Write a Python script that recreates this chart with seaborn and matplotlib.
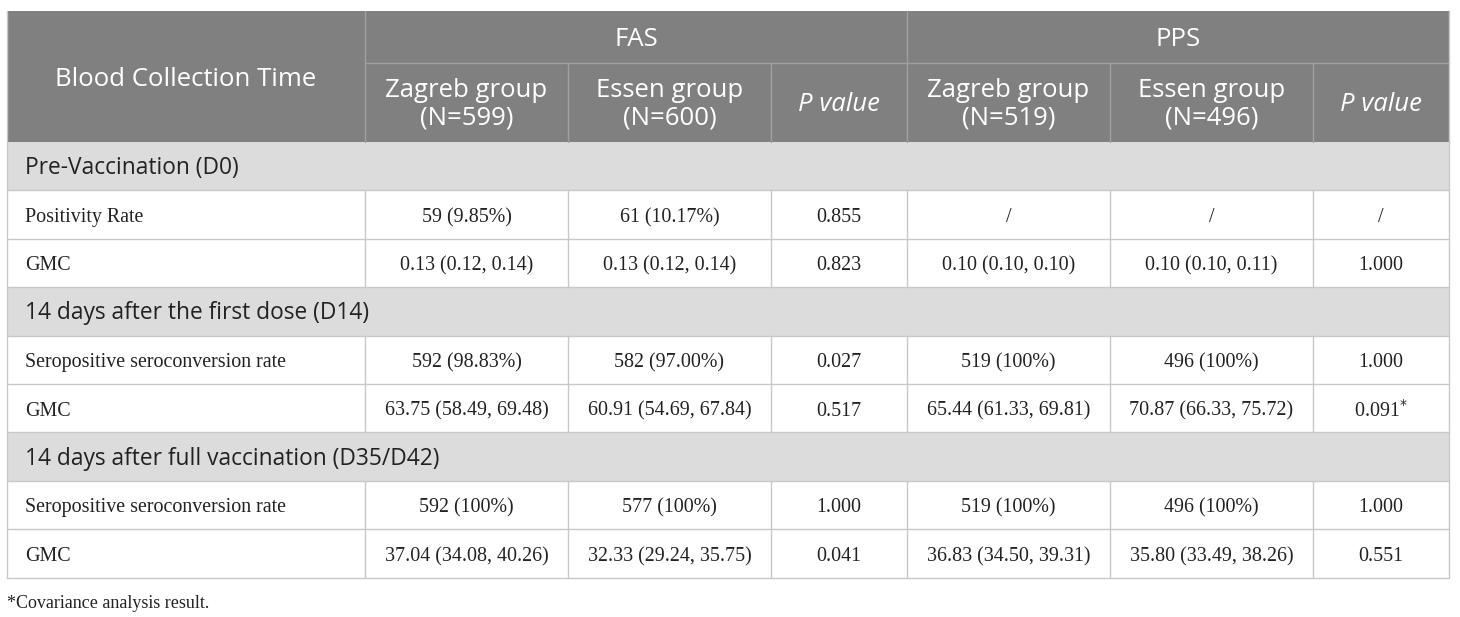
import matplotlib
matplotlib.use("Agg")
import matplotlib.pyplot as plt
from matplotlib.patches import Rectangle
import seaborn as sns

sns.set_theme(style="white")

# ---------------- data ----------------
groups = ["FAS", "PPS"]
sub_headers = ["Zagreb group\n(N=599)", "Essen group\n(N=600)", "P value",
               "Zagreb group\n(N=519)", "Essen group\n(N=496)", "P value"]
first_header = "Blood Collection Time"

sections = ["Pre-Vaccination (D0)",
            "14 days after the first dose (D14)",
            "14 days after full vaccination (D35/D42)"]

row_labels = [["Positivity Rate", "GMC"],
              ["Seropositive seroconversion rate", "GMC"],
              ["Seropositive seroconversion rate", "GMC"]]

row_values = [
    [["59 (9.85%)", "61 (10.17%)", "0.855", "/", "/", "/"],
     ["0.13 (0.12, 0.14)", "0.13 (0.12, 0.14)", "0.823", "0.10 (0.10, 0.10)", "0.10 (0.10, 0.11)", "1.000"]],
    [["592 (98.83%)", "582 (97.00%)", "0.027", "519 (100%)", "496 (100%)", "1.000"],
     ["63.75 (58.49, 69.48)", "60.91 (54.69, 67.84)", "0.517", "65.44 (61.33, 69.81)", "70.87 (66.33, 75.72)", "0.091$^{*}$"]],
    [["592 (100%)", "577 (100%)", "1.000", "519 (100%)", "496 (100%)", "1.000"],
     ["37.04 (34.08, 40.26)", "32.33 (29.24, 35.75)", "0.041", "36.83 (34.50, 39.31)", "35.80 (33.49, 38.26)", "0.551"]],
]
footnote = "*Covariance analysis result."

# ---------------- layout (pixels) ----------------
W, H = 1460, 617
col_x = [7, 365, 568, 771, 907, 1110, 1313, 1449]
y_top = 11
y_h1 = 63
y_h2 = 142
row_h = 48.4

HEAD_BG = "#808080"
SEC_BG = "#dcdcdc"
LINE = "#c8c8c8"
HEAD_LINE = "#a0a0a0"
TXT = "#222222"

sans = ["Open Sans", "DejaVu Sans"]
serif = ["Liberation Serif", "DejaVu Serif"]

fig = plt.figure(figsize=(W / 100, H / 100), dpi=100)
ax = fig.add_axes([0, 0, 1, 1])
ax.set_xlim(0, W)
ax.set_ylim(H, 0)
ax.axis("off")

# header background
ax.add_patch(Rectangle((col_x[0], y_top), col_x[-1] - col_x[0], y_h2 - y_top,
                       facecolor=HEAD_BG, edgecolor="none"))
# header lines
ax.plot([col_x[1], col_x[-1]], [y_h1, y_h1], color=HEAD_LINE, lw=1)
for i in range(1, 7):
    y0 = y_top if i in (1, 4) else y_h1
    ax.plot([col_x[i], col_x[i]], [y0, y_h2], color=HEAD_LINE, lw=1)

hs = 18.5
ax.text((col_x[0] + col_x[1]) / 2, (y_top + y_h2) / 2 + 3, first_header,
        ha="center", va="center", color="white", fontsize=hs, family=sans)
ax.text((col_x[1] + col_x[4]) / 2, (y_top + y_h1) / 2 + 3, groups[0],
        ha="center", va="center", color="white", fontsize=hs, family=sans)
ax.text((col_x[4] + col_x[7]) / 2, (y_top + y_h1) / 2 + 3, groups[1],
        ha="center", va="center", color="white", fontsize=hs, family=sans)
for i, lab in enumerate(sub_headers):
    cx = (col_x[i + 1] + col_x[i + 2]) / 2
    cy = (y_h1 + y_h2) / 2 + 2
    if lab == "P value":
        ax.text(cx, cy, lab, ha="center", va="center", color="white",
                fontsize=hs, family=sans, style="italic")
    else:
        ax.text(cx, cy, lab, ha="center", va="center", color="white",
                fontsize=hs, family=sans, linespacing=1.15)

# body
y = y_h2
for s, sec in enumerate(sections):
    ax.add_patch(Rectangle((col_x[0], y), col_x[-1] - col_x[0], row_h,
                           facecolor=SEC_BG, edgecolor="none"))
    ax.text(col_x[0] + 18, y + row_h / 2 + 2, sec, ha="left", va="center",
            color=TXT, fontsize=16.4, family=sans)
    ax.plot([col_x[0], col_x[-1]], [y + row_h, y + row_h], color=LINE, lw=1)
    y += row_h
    for r, lab in enumerate(row_labels[s]):
        ax.text(col_x[0] + 18, y + row_h / 2 + 3, lab, ha="left", va="center",
                color=TXT, fontsize=14.4, family=serif)
        for c, v in enumerate(row_values[s][r]):
            cx = (col_x[c + 1] + col_x[c + 2]) / 2
            ax.text(cx, y + row_h / 2 + 3, v, ha="center", va="center",
                    color=TXT, fontsize=14.4, family=serif)
        for i in range(1, 7):
            ax.plot([col_x[i], col_x[i]], [y, y + row_h], color=LINE, lw=1)
        ax.plot([col_x[0], col_x[-1]], [y + row_h, y + row_h], color=LINE, lw=1)
        y += row_h

# outer border
ax.plot([col_x[0], col_x[0]], [y_top, y], color=LINE, lw=1)
ax.plot([col_x[-1], col_x[-1]], [y_top, y], color=LINE, lw=1)

ax.text(col_x[0], y + 26, footnote, ha="left", va="center",
        color=TXT, fontsize=13, family=serif)

fig.savefig("out.png", dpi=100)
